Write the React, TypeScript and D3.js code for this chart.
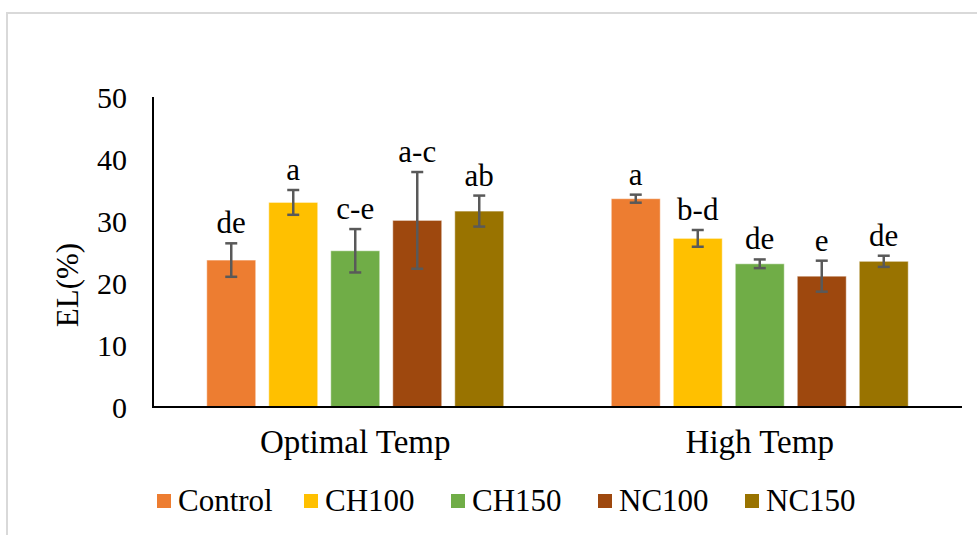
import React from "react";
import * as d3 from "d3";

const WIDTH = 977;
const HEIGHT = 535;
const MARGIN = { top: 97, left: 153, right: 15, bottom: 128 };

const groups = ["Optimal Temp", "High Temp"];
const series = ["Control", "CH100", "CH150", "NC100", "NC150"];
const colors = ["#ED7D31", "#FFC000", "#70AD47", "#9E480E", "#997300"];

const optimalMeans = [23.7, 33.0, 25.2, 30.1, 31.6];
const optimalErrors = [2.7, 2.0, 3.5, 7.8, 2.5];
const optimalLetters = ["de", "a", "c-e", "a-c", "ab"];

const highMeans = [33.6, 27.2, 23.1, 21.1, 23.5];
const highErrors = [0.65, 1.35, 0.7, 2.5, 0.9];
const highLetters = ["a", "b-d", "de", "e", "de"];

const yTicks = [0, 10, 20, 30, 40, 50];

const FONT = "'Liberation Serif', 'Times New Roman', serif";

export default function App() {
  const table = [
    { group: groups[0], means: optimalMeans, errors: optimalErrors, letters: optimalLetters },
    { group: groups[1], means: highMeans, errors: highErrors, letters: highLetters }
  ];

  const yScale = d3.scaleLinear().domain([0, 50]).range([407, MARGIN.top]);

  const x0 = d3
    .scaleBand()
    .domain(groups)
    .range([MARGIN.left, WIDTH - MARGIN.right]);
  const clusterWidth = 310;
  const x1 = d3
    .scaleBand()
    .domain(series)
    .range([0, clusterWidth])
    .paddingInner(0.21)
    .paddingOuter(0.105);
  const clusterOffset = (x0.bandwidth() - clusterWidth) / 2;

  const legendX = d3.scalePoint().domain(series).range([157, 745]);

  return (
    <div style={{ position: "fixed", left: 0, top: 0 }}>
      <svg width={WIDTH} height={HEIGHT} style={{ display: "block", background: "#fff" }}>
        <rect x={7} y={13} width={1000} height={600} fill="none" stroke="#d9d9d9" strokeWidth={2} />

        {table.map(row => (
          <g key={row.group} transform={`translate(${x0(row.group) + clusterOffset},0)`}>
            {series.map((s, i) => {
              const x = x1(s);
              const w = x1.bandwidth();
              const cx = x + w / 2;
              const top = yScale(row.means[i] + row.errors[i]);
              const bottom = yScale(row.means[i] - row.errors[i]);
              return (
                <g key={s}>
                  <rect
                    x={x}
                    y={yScale(row.means[i])}
                    width={w}
                    height={yScale(0) - yScale(row.means[i])}
                    fill={colors[i]}
                    stroke="#ffffff"
                    strokeOpacity={0.5}
                    strokeWidth={1}
                  />
                  <line x1={cx} x2={cx} y1={top} y2={bottom} stroke="#595959" strokeWidth={2.5} />
                  <line x1={cx - 6} x2={cx + 6} y1={top} y2={top} stroke="#595959" strokeWidth={2.5} />
                  <line x1={cx - 6} x2={cx + 6} y1={bottom} y2={bottom} stroke="#595959" strokeWidth={2.5} />
                  <text
                    x={cx}
                    y={top - 10}
                    textAnchor="middle"
                    fontFamily={FONT}
                    fontSize={31}
                    fill="#000"
                  >
                    {row.letters[i]}
                  </text>
                </g>
              );
            })}
          </g>
        ))}

        {/* axes */}
        <line x1={MARGIN.left} x2={MARGIN.left} y1={yScale(50)} y2={yScale(0)} stroke="#000" strokeWidth={2} />
        <line x1={MARGIN.left - 1} x2={WIDTH - MARGIN.right} y1={yScale(0)} y2={yScale(0)} stroke="#000" strokeWidth={2} />

        {yTicks.map(t => (
          <text
            key={t}
            x={127}
            y={yScale(t)}
            dy="0.35em"
            textAnchor="end"
            fontFamily={FONT}
            fontSize={30}
            fill="#000"
          >
            {t}
          </text>
        ))}

        {groups.map(g => (
          <text
            key={g}
            x={x0(g) + x0.bandwidth() / 2}
            y={453}
            textAnchor="middle"
            fontFamily={FONT}
            fontSize={33}
            fill="#000"
          >
            {g}
          </text>
        ))}

        <text
          transform="translate(78,285) rotate(-90)"
          textAnchor="middle"
          fontFamily={FONT}
          fontSize={31}
          fill="#000"
        >
          EL(%)
        </text>

        {series.map((s, i) => (
          <g key={s} transform={`translate(${legendX(s)},0)`}>
            <rect x={0} y={494} width={14} height={14} fill={colors[i]} />
            <text x={21} y={511} fontFamily={FONT} fontSize={31} fill="#000">
              {s}
            </text>
          </g>
        ))}
      </svg>
    </div>
  );
}
